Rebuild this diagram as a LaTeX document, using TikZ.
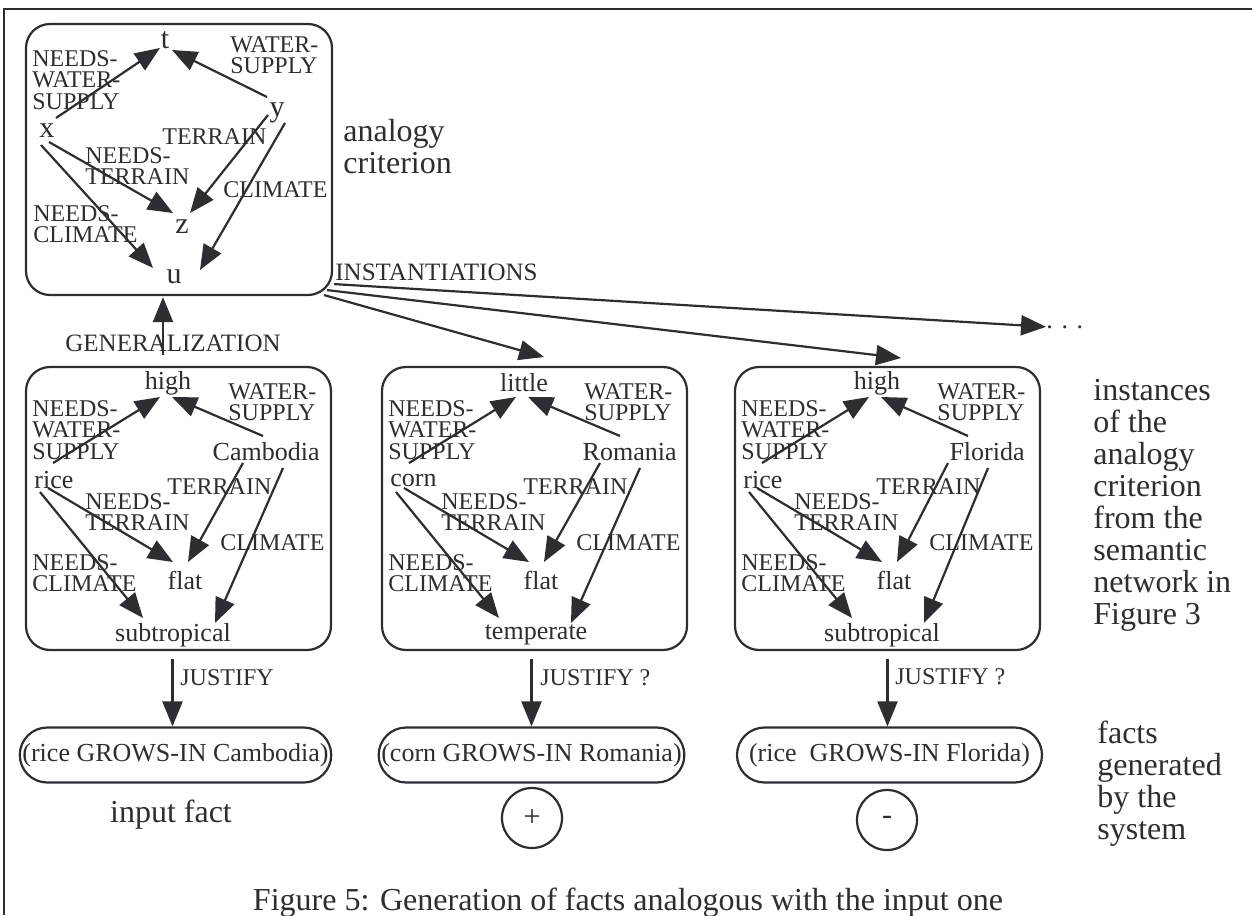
\documentclass[tikz,border=0pt]{standalone}
\usepackage{fontspec}
\setmainfont{Liberation Serif}
\usetikzlibrary{arrows.meta,calc,shapes.misc}
\definecolor{ink}{RGB}{45,45,50}
\tikzset{
 arr/.style={draw=ink, line width=1.1pt, -{Triangle[length=12.5pt,width=10pt]}},
 rbox/.style={draw=ink, line width=1.1pt, rounded corners=12pt, inner sep=0pt},
 nd/.style={font=\fontsize{13}{13}\selectfont, text=ink, inner sep=0pt},
 var/.style={font=\fontsize{15}{15}\selectfont, text=ink, inner sep=0pt},
 lbl/.style={font=\fontsize{12}{10.8}\selectfont, text=ink, inner sep=0pt, align=left, anchor=west},
 big/.style={font=\fontsize{16}{16}\selectfont, text=ink, inner sep=0pt, align=left, anchor=west},
 fact/.style={draw=ink, line width=1.1pt, rounded rectangle, minimum height=27.5pt, inner sep=0pt, font=\fontsize{13}{13}\selectfont, text=ink},
 sign/.style={draw=ink, line width=1.1pt, circle, minimum size=30pt, inner sep=0pt, font=\fontsize{15}{15}\selectfont, text=ink},
}
% #1 prefix, #2 x offset, #3 top word, #4 crop, #5 country, #6 country east x, #7 bottom word, #8 bottom centre x
\newcommand{\critbox}[8]{%
 \node[rbox, minimum width=152.5pt, minimum height=141.5pt] (#1) at ({#2+178.5},508.5) {};
 \node[nd] (#1-top) at ({#2+168},383) {#3};
 \node[nd,anchor=west] (#1-crop) at ({#2+34},480) {#4};
 \node[nd,anchor=east] (#1-ctry) at ({#2+#6},452) {#5};
 \node[nd] (#1-flat) at ({#2+185},580) {flat};
 \node[nd] (#1-bot) at ({#2+#8},635) {#7};
 \node[lbl] (#1-l1) at ({#2+228},402) {WATER-\\SUPPLY};
 \node[lbl] (#1-l2) at ({#2+32},430) {NEEDS-\\WATER-\\SUPPLY};
 \node[lbl] (#1-l3) at ({#2+167},487) {TERRAIN};
 \node[lbl] (#1-l4) at ({#2+85},512) {NEEDS-\\TERRAIN};
 \node[lbl] (#1-l5) at ({#2+220},543) {CLIMATE};
 \node[lbl] (#1-l6) at ({#2+32},573) {NEEDS-\\CLIMATE};
 \draw[arr] ($(#1-crop.west)+(19,-17)$) -- ($(#1-top)+(-8,14)$);
 \draw[arr] ($(#1-ctry.east)+(-57,-16)$) -- ($(#1-top)+(4,14)$);
 \draw[arr] ($(#1-ctry.east)+(-77,11)$) -- ($(#1-flat)+(3,-18)$);
 \draw[arr] ($(#1-ctry.east)+(-37,16)$) -- ($(#1-bot)+({215-#8},-12)$);
 \draw[arr] ($(#1-crop.west)+(14,8)$) -- ($(#1-flat)+(-12,-18)$);
 \draw[arr] ($(#1-crop.west)+(6,12)$) -- ($(#1-bot)+({143-#8},-17)$);
}
\begin{document}
\begin{tikzpicture}[x=0.5pt,y=-0.5pt]
\useasboundingbox (0,0) rectangle (1252,915);
% frame
\draw[ink, line width=1.3pt] (4,915) -- (4,9) -- (1252,9);
% analogy criterion box
\node[rbox, minimum width=153pt, minimum height=135.5pt] (b0) at (179,159.5) {};
\node[var] (t) at (165,40) {t};
\node[var] (x) at (47,131) {x};
\node[var] (y) at (277,113) {y};
\node[var] (z) at (182,227) {z};
\node[var] (u) at (174,277) {u};
\node[lbl] (l01) at (230,55) {WATER-\\SUPPLY};
\node[lbl] (l02) at (32,80) {NEEDS-\\WATER-\\SUPPLY};
\node[lbl] (l03) at (162,137) {TERRAIN};
\node[lbl] (l04) at (85,166) {NEEDS-\\TERRAIN};
\node[lbl] (l05) at (223,190) {CLIMATE};
\node[lbl] (l06) at (33,224) {NEEDS-\\CLIMATE};
\draw[arr] ($(x)+(9,-13)$) -- ($(t)+(-5,8)$);
\draw[arr] ($(y)+(-10,-16)$) -- ($(t)+(7,10)$);
\draw[arr] ($(y)+(-9,2)$) -- ($(z)+(8,-14)$);
\draw[arr] ($(y)+(8,10)$) -- ($(u)+(26,-7)$);
\draw[arr] ($(x)+(2,11)$) -- ($(z)+(-9,-14)$);
\draw[arr] ($(x)+(-6,14)$) -- ($(u)+(-21,-9)$);
\node[big] (ac) at (343,146.5) {analogy\\criterion};
% instance boxes
\critbox{b1}{0}{high}{rice}{Cambodia}{320}{subtropical}{173}
\critbox{b2}{356}{little}{corn}{Romania}{321}{temperate}{180}
\critbox{b3}{709}{high}{rice}{Florida}{316}{subtropical}{173}
% generalization
\node[lbl, anchor=center, font=\fontsize{12.5}{12.5}\selectfont] (gen) at (173,343) {GENERALIZATION};
\draw[arr] ($(b1.north)+(-15.5,-11)$) -- ($(b0.south)+(-16,1)$);
% instantiations
\node[lbl, font=\fontsize{12.5}{12.5}\selectfont] (inst) at (335,272) {INSTANTIATIONS};
\node[nd, anchor=base west] (dots) at (1046,328) {.\,\,.\,\,.};
\draw[arr] ($(b0.south east)+(1,-12)$) -- (dots.west);
\draw[arr] ($(b0.south east)+(-6,-6)$) -- ($(b3-top)+(24,-25)$);
\draw[arr] ($(b0.south east)+(-9,-1)$) -- ($(b2-top)+(20,-26)$);
% facts
\node[fact, minimum width=155.5pt] (f1) at (175.5,755) {(rice GROWS-IN Cambodia)};
\node[fact, minimum width=151.5pt] (f2) at (531.5,755) {(corn GROWS-IN Romania)};
\node[fact, minimum width=152.5pt] (f3) at (889.5,755) {(rice\ \ GROWS-IN Florida)};
\draw[arr] ($(b1.south -| f1.north)+(-3,8)$) -- ($(f1.north)+(-3,0)$);
\draw[arr] ($(b2.south -| f2.north)+(0,8)$) -- (f2.north);
\draw[arr] ($(b3.south -| f3.north)+(-2,8)$) -- ($(f3.north)+(-2,0)$);
\node[lbl] (j1) at (180,678) {JUSTIFY};
\node[lbl] (j2) at (540,678) {JUSTIFY ?};
\node[lbl] (j3) at (895,677) {JUSTIFY ?};
\node[sign] (plus) at (532,818) {+};
\node[sign] (minus) at (887,820) {-};
\node[big, anchor=center] (inf) at (171,815) {input fact};
\node[big] (inst2) at (1093,505.5) {instances\\of the\\analogy\\criterion\\from the\\semantic\\network in\\Figure 3};
\node[big] (facts) at (1097,784) {facts\\generated\\by the\\system};
\node[big, anchor=center] (cap) at (628,903) {Figure 5: Generation of facts analogous with the input one};
\end{tikzpicture}
\end{document}
